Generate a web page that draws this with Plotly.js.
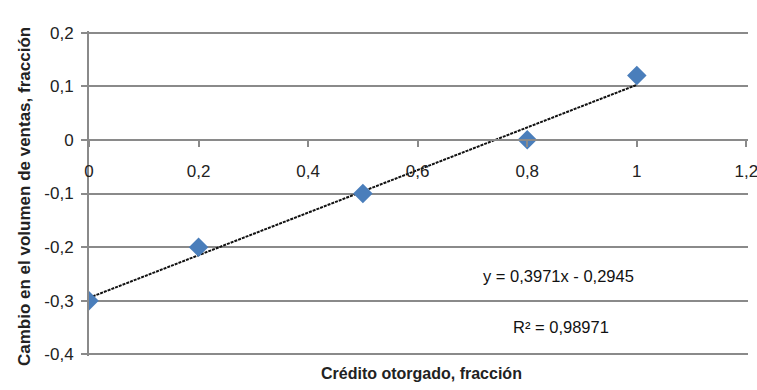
<!DOCTYPE html>
<html><head><meta charset="utf-8">
<script src="https://cdn.plot.ly/plotly-3.0.1.min.js"></script>
<style>html,body{margin:0;padding:0;background:#fff}#c{width:757px;height:390px}</style>
</head><body><div id="c"></div>
<script>
var credito = [0, 0.2, 0.5, 0.8, 1];
var cambio = [-0.3, -0.2, -0.1, 0, 0.12];
var slope = 0.3971, intercept = -0.2945;
var trendX = [0, 1];
var xTicks = [0, 0.2, 0.4, 0.6, 0.8, 1, 1.2];
var xTickText = ["0", "0,2", "0,4", "0,6", "0,8", "1", "1,2"];
var yTicks = [-0.4, -0.3, -0.2, -0.1, 0, 0.1, 0.2];
var yTickText = ["-0,4", "-0,3", "-0,2", "-0,1", "0", "0,1", "0,2"];
var eqText = "y = 0,3971x - 0,2945";
var r2Text = "R² = 0,98971";
var xTitle = "Crédito otorgado, fracción";
var yTitle = "Cambio en el volumen de ventas, fracción";

var F = "Liberation Sans, Arial, sans-serif";
var yRange = [-0.403, 0.203];
var xRange = [0, 1.203];
var xPos = (0 - yRange[0]) / (yRange[1] - yRange[0]);
var grey = '#8a8a8a';

var traces = [
  {x: trendX, y: trendX.map(function(v){return slope*v+intercept;}), mode:'lines',
   line:{color:'#111', width:2, dash:'3px,1px'}, hoverinfo:'skip'},
  {x: credito, y: cambio, mode:'markers',
   marker:{symbol:'diamond', size:15, color:'#4a7ebb'}}
];
var layout = {
  width:757, height:390, showlegend:false,
  margin:{l:89, r:9, t:31, b:34},
  paper_bgcolor:'#fff', plot_bgcolor:'#fff',
  xaxis:{range:xRange, tickvals:xTicks, ticktext:xTickText, showgrid:false, zeroline:false,
    anchor:'free', position:xPos, showline:true, linecolor:grey, linewidth:2,
    ticks:'outside', ticklen:6, tickcolor:grey, tickwidth:2, ticklabelstandoff:10,
    ticklabeloverflow:'allow',
    tickfont:{family:F, size:17, color:'#222'}},
  yaxis:{range:yRange, tickvals:yTicks, ticktext:yTickText, showgrid:true, gridcolor:grey, gridwidth:2,
    zeroline:false, showline:true, linecolor:grey, linewidth:2,
    ticks:'outside', ticklen:6, tickcolor:grey, tickwidth:2, ticklabelstandoff:4,
    tickfont:{family:F, size:17, color:'#222'}},
  annotations:[
    {xref:'paper', yref:'paper', x:0.5, xshift:3, y:-0.055, yanchor:'middle', showarrow:false,
     text:'<b>'+xTitle+'</b>', font:{family:F, size:16, color:'#222'}},
    {xref:'paper', yref:'paper', x:0, xshift:-76, y:0.5, yshift:-3, textangle:-90, showarrow:false,
     text:'<b>'+yTitle+'</b>', font:{family:F, size:17, color:'#222'}},
    {xref:'x', yref:'y', x:0.857, y:-0.254, showarrow:false, text:eqText, font:{family:F, size:16.5, color:'#111'}},
    {xref:'x', yref:'y', x:0.861, y:-0.348, showarrow:false, text:r2Text, font:{family:F, size:16.5, color:'#111'}}
  ]
};
Plotly.newPlot('c', traces, layout, {staticPlot:true});
</script></body></html>
